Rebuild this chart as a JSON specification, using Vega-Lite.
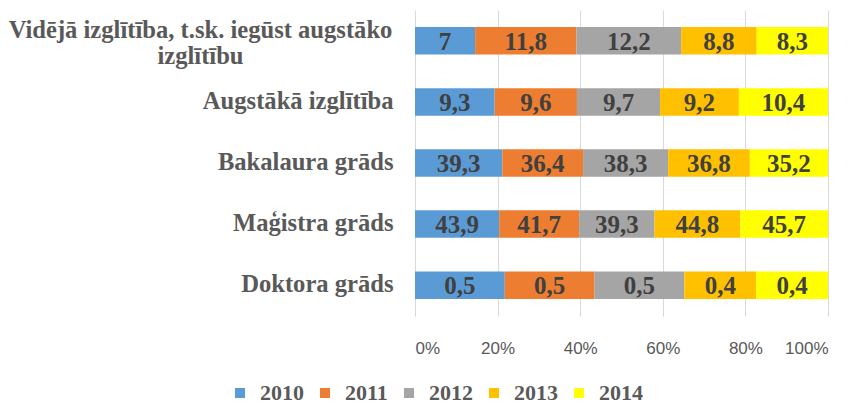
{
  "$schema": "https://vega.github.io/schema/vega-lite/v6.json",
  "width": 413,
  "height": 306,
  "autosize": "none",
  "padding": {"left": 415, "top": 10, "right": 27, "bottom": 90},
  "background": "white",
  "config": {
    "view": {"stroke": null},
    "locale": {"number": {"decimal": ",", "thousands": " ", "grouping": [3], "currency": ["", " €"]}}
  },
  "data": {
    "values": [
      {"cat": "Vidējā", "year": "2010", "v": 7},
      {"cat": "Vidējā", "year": "2011", "v": 11.8},
      {"cat": "Vidējā", "year": "2012", "v": 12.2},
      {"cat": "Vidējā", "year": "2013", "v": 8.8},
      {"cat": "Vidējā", "year": "2014", "v": 8.3},
      {"cat": "Augstākā izglītība", "year": "2010", "v": 9.3},
      {"cat": "Augstākā izglītība", "year": "2011", "v": 9.6},
      {"cat": "Augstākā izglītība", "year": "2012", "v": 9.7},
      {"cat": "Augstākā izglītība", "year": "2013", "v": 9.2},
      {"cat": "Augstākā izglītība", "year": "2014", "v": 10.4},
      {"cat": "Bakalaura grāds", "year": "2010", "v": 39.3},
      {"cat": "Bakalaura grāds", "year": "2011", "v": 36.4},
      {"cat": "Bakalaura grāds", "year": "2012", "v": 38.3},
      {"cat": "Bakalaura grāds", "year": "2013", "v": 36.8},
      {"cat": "Bakalaura grāds", "year": "2014", "v": 35.2},
      {"cat": "Maģistra grāds", "year": "2010", "v": 43.9},
      {"cat": "Maģistra grāds", "year": "2011", "v": 41.7},
      {"cat": "Maģistra grāds", "year": "2012", "v": 39.3},
      {"cat": "Maģistra grāds", "year": "2013", "v": 44.8},
      {"cat": "Maģistra grāds", "year": "2014", "v": 45.7},
      {"cat": "Doktora grāds", "year": "2010", "v": 0.5},
      {"cat": "Doktora grāds", "year": "2011", "v": 0.5},
      {"cat": "Doktora grāds", "year": "2012", "v": 0.5},
      {"cat": "Doktora grāds", "year": "2013", "v": 0.4},
      {"cat": "Doktora grāds", "year": "2014", "v": 0.4}
    ]
  },
  "transform": [
    {"stack": "v", "groupby": ["cat"], "sort": [{"field": "year", "order": "ascending"}], "offset": "normalize", "as": ["v0", "v1"]}
  ],
  "encoding": {
    "y": {
      "field": "cat",
      "type": "nominal",
      "sort": ["Vidējā", "Augstākā izglītība", "Bakalaura grāds", "Maģistra grāds", "Doktora grāds"],
      "scale": {"paddingInner": 0.55, "paddingOuter": 0.28},
      "axis": {
        "title": null,
        "domain": false,
        "ticks": false,
        "labelFont": "Liberation Serif",
        "labelFontWeight": "bold",
        "labelFontSize": 24.6,
        "labelColor": "#595959",
        "labelLimit": 600,
        "labelPadding": {"condition": {"test": "datum.value == 'Vidējā'", "value": 215}, "value": 22},
        "labelAlign": {"condition": {"test": "datum.value == 'Vidējā'", "value": "center"}, "value": "right"},
        "labelOffset": {"condition": {"test": "datum.value == 'Vidējā'", "value": -10}, "value": 0},
        "labelLineHeight": 26,
        "labelExpr": "datum.value == 'Vidējā' ? ['Vidējā izglītība, t.sk. iegūst augstāko', 'izglītību'] : datum.value"
      }
    }
  },
  "layer": [
    {
      "mark": {"type": "bar"},
      "encoding": {
        "x": {
          "field": "v0",
          "type": "quantitative",
          "scale": {"domain": [0, 1]},
          "axis": {
            "title": null,
            "format": "%",
            "values": [0, 0.2, 0.4, 0.6, 0.8, 1],
            "domain": false,
            "ticks": false,
            "grid": true,
            "gridColor": "#d9d9d9",
            "labelFont": "Liberation Sans",
            "labelFontSize": 17,
            "labelColor": "#595959",
            "labelPadding": 24
          }
        },
        "x2": {"field": "v1"},
        "color": {
          "field": "year",
          "type": "nominal",
          "scale": {"domain": ["2010", "2011", "2012", "2013", "2014"], "range": ["#5B9BD5", "#ED7D31", "#A5A5A5", "#FFC000", "#FFFF00"]},
          "legend": {
            "title": null,
            "orient": "none",
            "direction": "horizontal",
            "legendX": -186,
            "legendY": 372,
            "symbolType": "square",
            "symbolSize": 100,
            "symbolStrokeWidth": 0,
            "labelFont": "Liberation Serif",
            "labelFontWeight": "bold",
            "labelFontSize": 22,
            "labelColor": "#595959",
            "labelOffset": 9,
            "columnPadding": 10
          }
        }
      }
    },
    {
      "transform": [
        {"fold": ["v0", "v1"], "as": ["edge", "pos"]},
        {"aggregate": [{"op": "mean", "field": "pos", "as": "mid"}], "groupby": ["cat", "year", "v"]}
      ],
      "mark": {"type": "text", "font": "Liberation Serif", "fontWeight": "bold", "fontSize": 25, "color": "#404040", "baseline": "middle", "dy": 1},
      "encoding": {
        "x": {"field": "mid", "type": "quantitative"},
        "text": {"field": "v", "type": "quantitative", "format": ".1~f"}
      }
    }
  ]
}
